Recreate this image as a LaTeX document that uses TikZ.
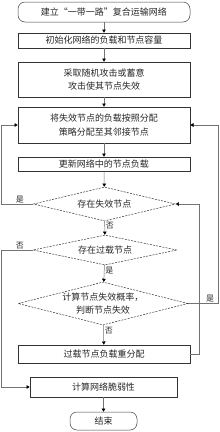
\documentclass[tikz,border=0pt]{standalone}
\usepackage{fontspec}
\setmainfont{Noto Sans CJK SC}
\usetikzlibrary{arrows.meta,shapes.geometric}

\newcommand*{\lx}{1.5}
\newcommand*{\rxa}{218}
\newcommand*{\rxb}{199}

\begin{document}
\begin{tikzpicture}
[
	x=1pt,y=-1pt,
	font=\fontsize{9}{13.5}\selectfont,
	procbox/.style={rectangle,draw=black!80,line width=0.6pt,text=black!85,align=center,inner sep=0pt,minimum width=172pt},
	termbox/.style={rectangle,rounded corners=7pt,draw=black!75,line width=0.5pt,text=black!85,inner sep=0pt},
	decis/.style={diamond,draw=black!80,dashed,dash pattern=on 2pt off 1.2pt,line width=0.5pt,text=black!85,align=center,inner sep=0pt},
	line/.style={draw=black!55,line width=0.5pt,-{Triangle[length=3.2pt,width=3.6pt,color=black]}},
	yesno/.style={text=black!85,font=\fontsize{8}{9}\selectfont,inner sep=1pt}
]

	\useasboundingbox (0,0) rectangle (220,432);

	% main column
	\node[termbox,minimum width=172pt,minimum height=20pt] (start) at (104,12) {建立“一带一路”复合运输网络};
	\node[procbox,minimum height=15pt] (init) at (104,40.5) {初始化网络的负载和节点容量};
	\node[procbox,minimum height=35pt] (attack) at (104,79.5) {采取随机攻击或蓄意\\攻击使其节点失效};
	\node[procbox,minimum height=36pt] (redist) at (104,125) {将失效节点的负载按照分配\\策略分配至其邻接节点};
	\node[procbox,minimum height=14pt] (update) at (104,164) {更新网络中的节点负载};
	\node[decis,minimum width=142pt,minimum height=34pt,aspect=4.2] (fail) at (104.5,204) {存在失效节点};
	\node[decis,minimum width=144pt,minimum height=30pt,aspect=4.8] (over) at (105,250) {存在过载节点};
	\node[decis,minimum width=170pt,minimum height=43pt,aspect=3.95] (prob) at (103,303.5) {计算节点失效概率，\\判断节点失效};
	\node[procbox,minimum height=18pt] (reload) at (104,354) {过载节点负载重分配};
	\node[procbox,minimum width=147pt,minimum height=20pt] (vuln) at (103.5,387) {计算网络脆弱性};
	\node[termbox,minimum width=67pt,minimum height=18pt] (stop) at (103.5,421) {结束};

	% straight arrows
	\draw[line] (start) -- (init);
	\draw[line] (init) -- (attack);
	\draw[line] (attack) -- (redist);
	\draw[line] (redist) -- (update);
	\draw[line] (update) -- (fail);
	\draw[line] (fail) -- (over) node[yesno,pos=0.3,right] {否};
	\draw[line] (over) -- (prob) node[yesno,pos=0.3,right] {是};
	\draw[line] (prob) -- (reload) node[yesno,pos=0.3,right] {否};
	\draw[line] (vuln) -- (stop);

	% loops on the left
	\draw[line] (fail.west) -- (fail.west -| \lx,0) |- (redist.west);
	\node[yesno,above] at (20,204) {是};
	\draw[line] (over.west) -- (over.west -| \lx,0) |- (vuln.west);
	\node[yesno,above] at (20,250) {否};

	% loops on the right
	\draw[line] (prob.east) -- (prob.east -| \rxa,0) |- (redist.east);
	\node[yesno,above] at (210,303.5) {是};
	\draw[line] (reload.east) -- (reload.east -| \rxb,0) |- (fail.east);

\end{tikzpicture}
\end{document}
